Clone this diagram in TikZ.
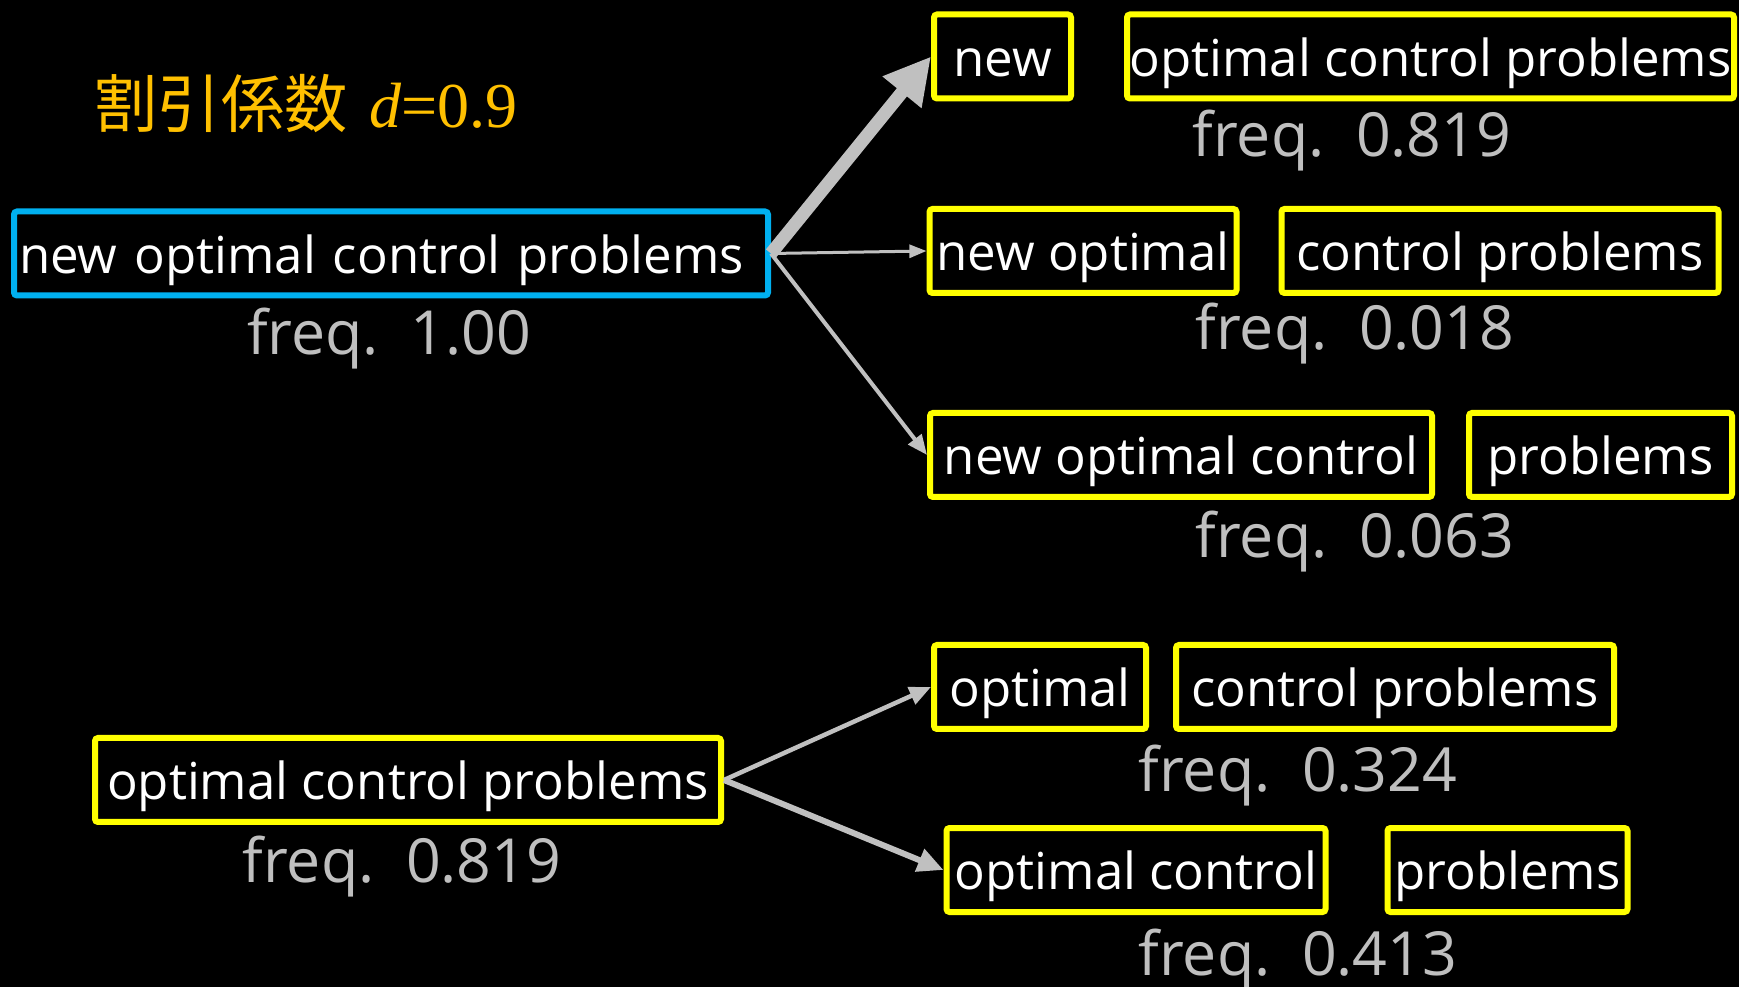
\documentclass[tikz,border=0pt]{standalone}
\usepackage{fontspec}
\setmainfont{Open Sans}
\newfontfamily\cjkfont{Noto Sans CJK JP}
\newfontfamily\serifmath{Liberation Serif}
\usetikzlibrary{arrows.meta,positioning}
\definecolor{boxyellow}{HTML}{FFFF00}
\definecolor{boxblue}{HTML}{00B0F0}
\definecolor{arrowgray}{HTML}{C0C0C0}
\definecolor{freqgray}{HTML}{BFBFBF}
\definecolor{titleorange}{HTML}{FFC000}

\begin{document}
\begin{tikzpicture}[x=0.1mm,y=-0.1mm,->,>={Triangle[length=2.4pt 2.9,width=0.8pt 3.4]},
  word node/.style={draw=boxyellow,line width=0.6mm,rounded corners=0.3mm,text=white,inner sep=0pt,
    minimum height=8.4mm,text height=4mm,text depth=0pt,font=\fontsize{14.5pt}{17pt}\selectfont},
  root node/.style={word node,draw=boxblue,text width=74.4mm,align=left,inner xsep=0.5mm},
  freq node/.style={anchor=base,text=freqgray,inner sep=0pt,font=\fontsize{17.3pt}{20pt}\selectfont},
  flow/.style={draw=arrowgray,line width=#1}]

  \useasboundingbox (0,0) rectangle (1739,987);
  \fill[black] (0,0) rectangle (1739,987);

  \node[anchor=base west,inner sep=0pt,text=titleorange] (title) at (94,128)
    {\cjkfont\fontsize{18pt}{20pt}\selectfont 割引係数\hspace{0.8mm} \serifmath\fontsize{18.2pt}{20pt}\selectfont\itshape d\upshape=0.9};

  % whole phrase and its splits
  \node[root node] (root) at (391,253.5) {new optimal control problems};
  \node[freq node] (froot) at (389,355) {freq.\ \ 1.00};

  \node[word node,minimum width=13.7mm] (newA) at (1002.5,56.5) {new};
  \node[word node,minimum width=60.7mm] (restA) [right=5mm of newA] {optimal control problems};
  \node[freq node] (fA) at (1352,157) {freq.\ \ 0.819};

  \node[word node,minimum width=30.7mm] (newB) at (1083,251) {new optimal};
  \node[word node,minimum width=43.7mm] (restB) [right=3.9mm of newB] {control problems};
  \node[freq node] (fB) at (1355,350) {freq.\ \ 0.018};

  \node[word node,minimum width=50.2mm] (newC) at (1181,455) {new optimal control};
  \node[word node,minimum width=26.3mm] (restC) [right=3.1mm of newC] {problems};
  \node[freq node] (fC) at (1355,558) {freq.\ \ 0.063};

  % second phrase
  \node[word node,minimum width=62.6mm] (root2) at (408,780) {optimal control problems};
  \node[freq node] (froot2) at (402,882) {freq.\ \ 0.819};

  \node[word node,minimum width=21.2mm] (optA) at (1040,687) {optimal};
  \node[word node,minimum width=43.8mm] (restD) [right=2.4mm of optA] {control problems};
  \node[freq node] (fD) at (1298,792) {freq.\ \ 0.324};

  \node[word node,minimum width=37.9mm] (optB) at (1136,870) {optimal control};
  \node[word node,minimum width=24mm] (restE) [right=5.6mm of optB] {problems};
  \node[freq node] (fE) at (1298,975) {freq.\ \ 0.413};

  \path (root.east) edge[flow=1.3mm] (newA.west)
        (root.east) edge[flow=0.3mm] (newB.west)
        (root.east) edge[flow=0.4mm] (newC.west);
  \path (root2.east) edge[flow=0.45mm] (optA.west)
        (root2.east) edge[flow=0.6mm] (optB.west);
\end{tikzpicture}
\end{document}
